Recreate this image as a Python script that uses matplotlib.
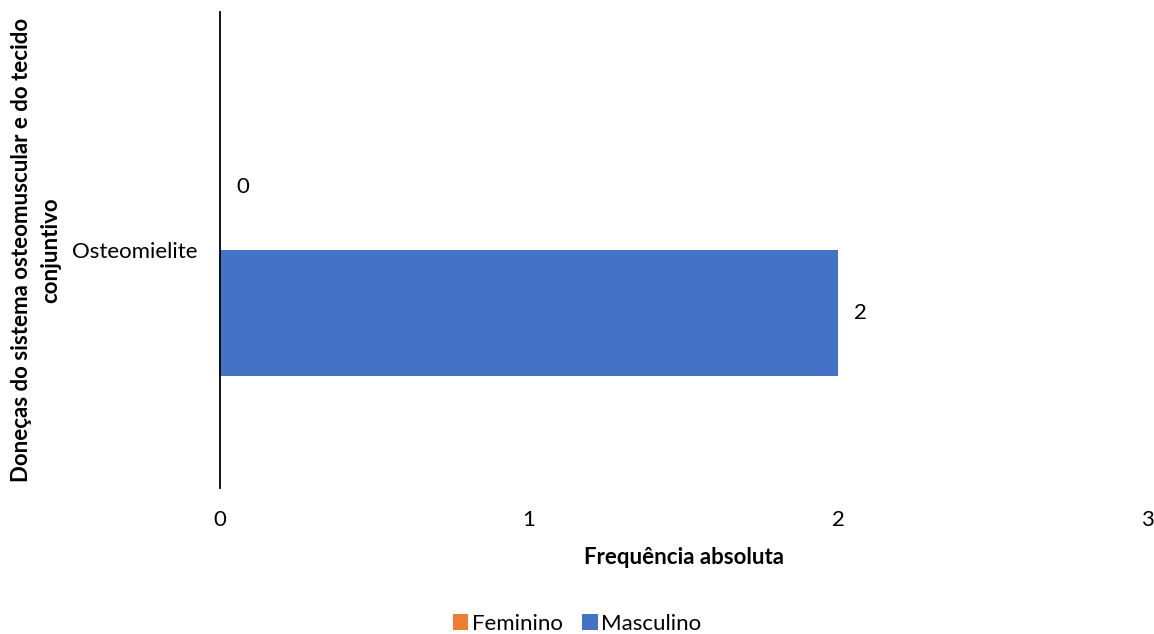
import matplotlib
matplotlib.use("Agg")
import matplotlib.pyplot as plt
import numpy as np

plt.rcParams['font.family'] = ['Lato', 'DejaVu Sans']

categories = ["Osteomielite"]
series_names = ["Feminino", "Masculino"]
feminino = [0]
masculino = [2]
colors = ["#ED7D31", "#4472C4"]
xticks = [0, 1, 2, 3]

FS = 16
fig = plt.figure(figsize=(11.54, 6.34), dpi=100)
ax = fig.add_axes([220/1154, 1-488/634, 927/1154, 476/634])

y = np.arange(len(categories))
h = 0.265
b1 = ax.barh(y + h/2, feminino, height=h, color=colors[0], label=series_names[0])
b2 = ax.barh(y - h/2, masculino, height=h, color=colors[1], label=series_names[1])
for bars, vals in ((b1, feminino), (b2, masculino)):
    for bar, v in zip(bars, vals):
        ax.annotate(str(v), (bar.get_width(), bar.get_y() + bar.get_height()/2),
                    xytext=(16, 0), textcoords='offset pixels',
                    ha='left', va='center', fontsize=FS)

ax.set_xlim(0, 3)
ax.set_ylim(-0.5, 0.5)
ax.set_xticks(xticks)
ax.set_xticklabels([str(t) for t in xticks], fontsize=FS)
ax.set_yticks(y)
ax.set_yticklabels(categories, fontsize=FS)
ax.tick_params(axis='x', length=0, pad=16)
ax.tick_params(axis='y', length=0, pad=16)
for s in ['top', 'right', 'bottom']:
    ax.spines[s].set_visible(False)
ax.spines['left'].set_linewidth(1.3)
ax.set_xlabel("Frequência absoluta", fontsize=FS, fontweight='bold', labelpad=12)
fig.text(36/1154, 1-250/634, "Doneças do sistema osteomuscular e do tecido\nconjuntivo",
         rotation=90, ha='center', va='center', fontsize=FS, fontweight='bold',
         multialignment='center', linespacing=1.45)
fig.legend(handles=[b1, b2], labels=series_names, loc='center', bbox_to_anchor=(0.5, 1-624/634),
           ncol=2, frameon=False, fontsize=FS, handlelength=0.7, handleheight=0.7,
           handletextpad=0.15, columnspacing=0.9)
fig.savefig("out.png", dpi=100)
